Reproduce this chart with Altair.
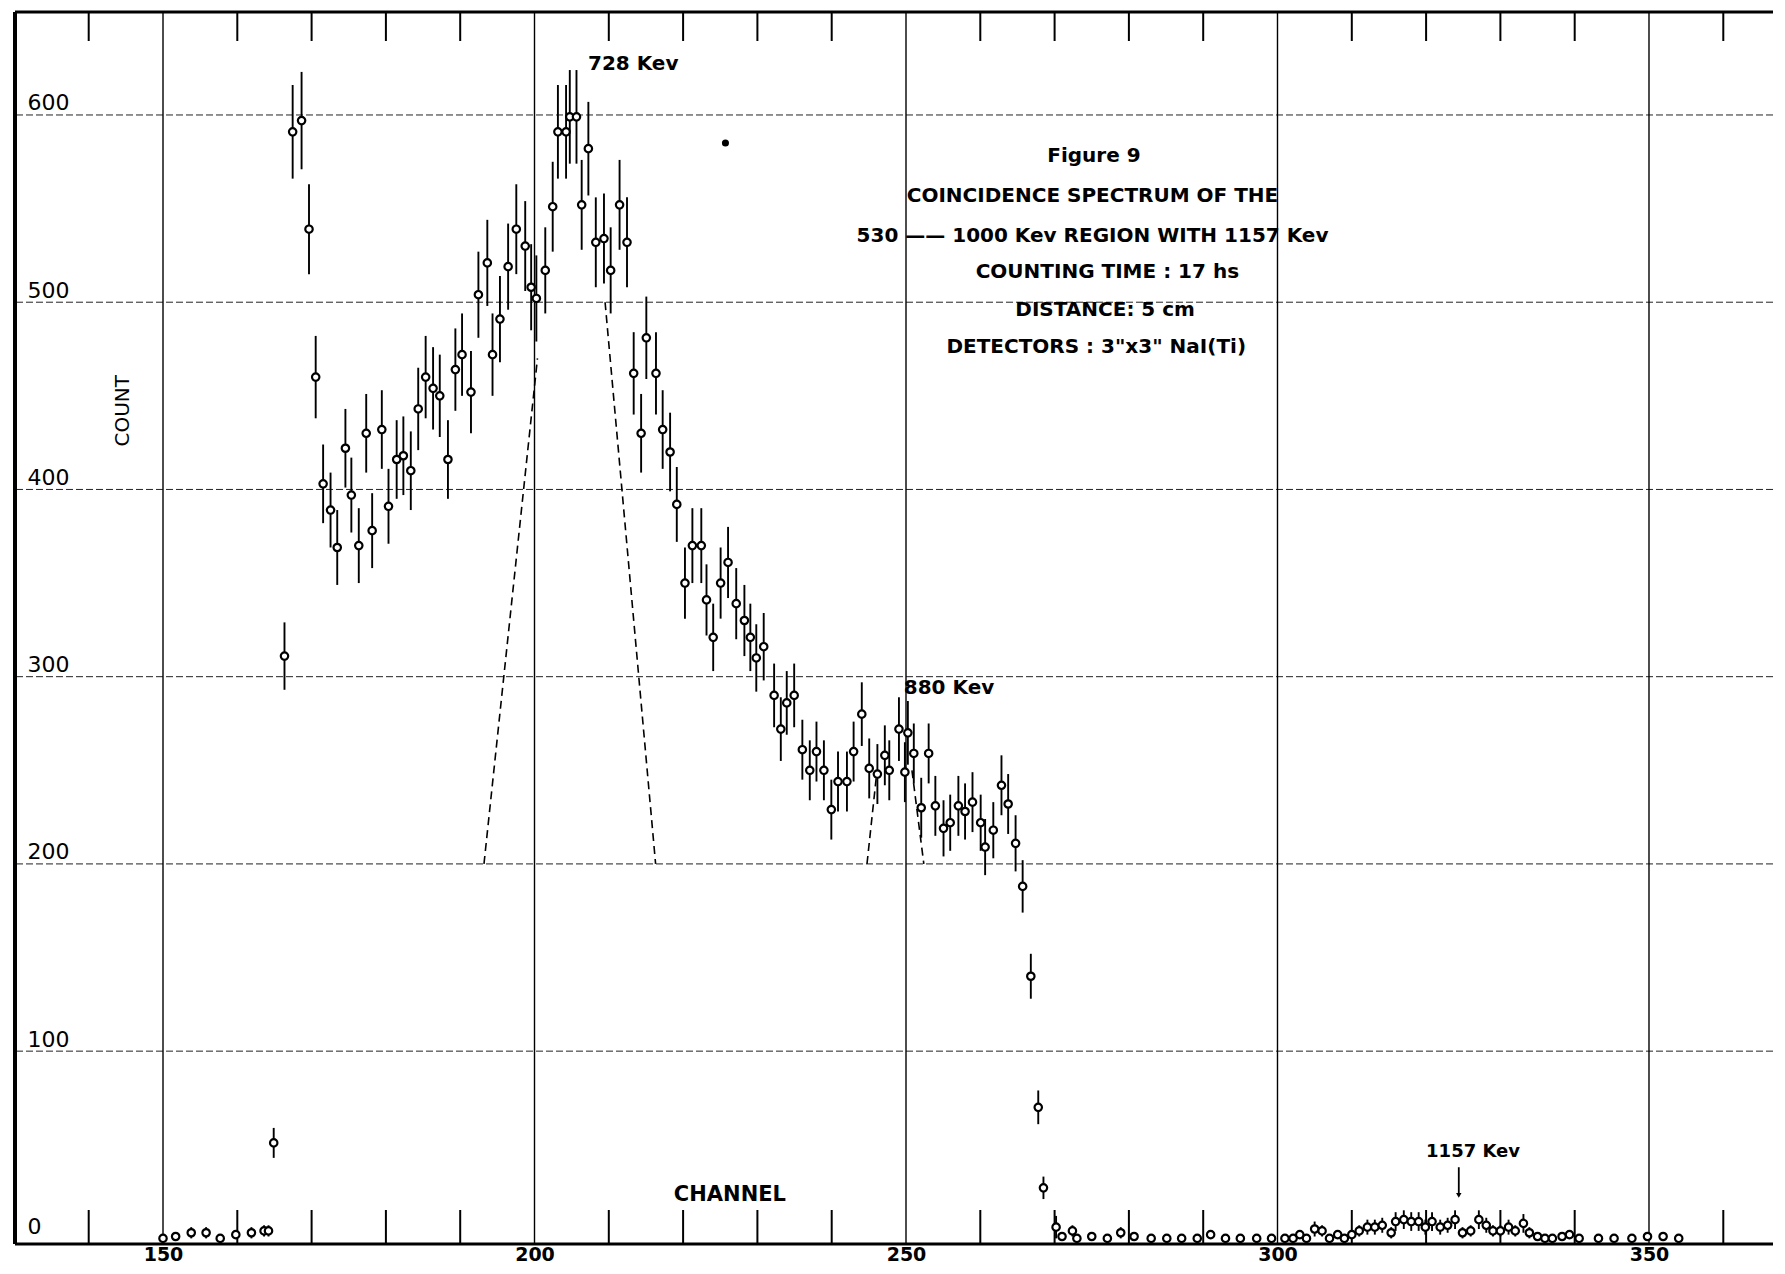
import altair as alt
import pandas as pd

# ---------------- data ----------------
# main spectrum (channel, count, error half-length)
channel = [164.9, 166.35, 167.45, 168.65, 169.65, 170.55, 171.55, 172.55, 173.45, 174.55,
           175.35, 176.35, 177.35, 178.15, 179.45, 180.35, 181.45, 182.35, 183.35, 184.35,
           185.35, 186.35, 187.25, 188.35, 189.35, 190.25, 191.45, 192.45, 193.65, 194.35,
           195.35, 196.45, 197.55, 198.75, 199.55, 200.25, 201.45, 202.45, 203.15, 204.25,
           204.75, 205.65, 206.35, 207.25, 208.25, 209.35, 210.25, 211.45, 212.45, 213.35,
           214.35, 215.05, 216.35, 217.25, 218.25, 219.15, 220.25, 221.25, 222.45, 223.15,
           224.05, 225.05, 226.05, 227.15, 228.25, 229.05, 229.85, 230.85, 232.25, 233.15,
           233.95, 234.95, 236.05, 237.05, 237.95, 238.95, 239.95, 240.85, 242.05, 242.95,
           244.05, 245.05, 246.15, 247.15, 247.75, 249.05, 249.85, 250.25, 251.05, 252.05,
           253.05, 253.95, 255.05, 255.95, 257.05, 257.95, 258.95, 260.05, 260.65, 261.75,
           262.85, 263.75, 264.75, 265.7, 266.8, 267.8, 268.5]
count = [51, 311, 591, 597, 539, 460, 403, 389, 369, 422,
         397, 370, 430, 378, 432, 391, 416, 418, 410, 443,
         460, 454, 450, 416, 464, 472, 452, 504, 521, 472,
         491, 519, 539, 530, 508, 502, 517, 551, 591, 591,
         599, 599, 552, 582, 532, 534, 517, 552, 532, 462,
         430, 481, 462, 432, 420, 392, 350, 370, 370, 341,
         321, 350, 361, 339, 330, 321, 310, 316, 290, 272,
         286, 290, 261, 250, 260, 250, 229, 244, 244, 260,
         280, 251, 248, 258, 250, 272, 249, 270, 259, 230,
         259, 231, 219, 222, 231, 228, 233, 222, 209, 218,
         242, 232, 211, 188, 140, 70, 27]
error = [8, 18, 25, 26, 24, 22, 21, 20, 20, 21,
         20, 20, 21, 20, 21, 20, 21, 21, 21, 22,
         22, 22, 22, 21, 22, 22, 22, 23, 23, 22,
         23, 23, 24, 24, 23, 23, 23, 24, 25, 25,
         25, 25, 24, 25, 24, 24, 23, 24, 24, 22,
         21, 22, 22, 21, 21, 20, 19, 20, 20, 19,
         18, 19, 19, 19, 19, 18, 18, 18, 17, 17,
         17, 17, 16, 16, 16, 16, 16, 16, 16, 16,
         17, 16, 16, 16, 16, 17, 16, 17, 16, 16,
         16, 16, 15, 15, 16, 15, 16, 15, 15, 15,
         16, 16, 15, 14, 12, 9, 6]

# low-count channels (left and right of the main spectrum)
low_channel = [150.0, 151.7, 153.8, 155.8, 157.7, 159.8, 161.9, 163.6, 164.2,
               270.2, 271.0, 272.4, 273.0, 275.0, 277.1, 278.9, 280.7, 283.0, 285.1,
               287.1, 289.2, 291.0, 293.0, 295.0, 297.2, 299.2, 301.0, 302.1, 303.0,
               303.9, 305.0, 306.0, 307.0, 308.1, 309.0, 310.0, 311.0, 312.1, 313.1,
               314.1, 315.3, 315.9, 317.0, 318.0, 319.0, 319.9, 320.8, 321.9, 322.9,
               323.9, 324.9, 326.0, 327.1, 328.1, 329.0, 330.0, 331.1, 332.0, 333.1,
               333.9, 335.0, 336.0, 337.0, 338.3, 339.3, 340.6, 343.2, 345.3, 347.7,
               349.8, 351.9, 354.0]
low_count = [0, 1, 3, 3, 0, 2, 3, 4, 4,
             6, 1, 4, 0, 1, 0, 3, 1, 0, 0,
             0, 0, 2, 0, 0, 0, 0, 0, 0, 2,
             0, 5, 4, 0, 2, 0, 2, 4, 6, 6,
             7, 3, 9, 10, 9, 9, 6, 9, 6, 7,
             10, 3, 4, 10, 7, 4, 4, 6, 4, 8,
             3, 1, 0, 0, 1, 2, 0, 0, 0, 0,
             1, 1, 0]
low_error = [2, 2, 3, 3, 2, 2, 3, 3, 3,
             6, 2, 3, 2, 2, 2, 3, 2, 2, 2,
             2, 2, 2, 2, 2, 2, 2, 2, 2, 2,
             2, 4, 3, 2, 2, 2, 2, 3, 4, 4,
             4, 3, 5, 5, 5, 5, 4, 5, 4, 4,
             5, 3, 3, 5, 4, 3, 3, 4, 3, 5,
             3, 2, 2, 2, 2, 2, 2, 2, 2, 2,
             2, 2, 2]

# dashed peak-shape lines (segment id, channel, count)
dash_seg = ["a", "a", "b", "b", "c", "c", "d", "d"]
dash_channel = [193.2, 200.4, 209.5, 216.3, 244.75, 246.1, 250.8, 252.4]
dash_count = [200, 470, 500, 200, 200, 250, 250, 200]

# stray ink dot on the sheet
speck_channel = [225.7]
speck_count = [585]

# axis tick labels and grid
x_labels = [150, 200, 250, 300, 350]
y_labels = [0, 100, 200, 300, 400, 500, 600]
y_grid = [100, 200, 300, 400, 500, 600]
minor_ticks = [140, 160, 170, 180, 190, 210, 220, 230, 240, 260, 270, 280, 290,
               310, 320, 330, 340, 360]

# text in the chart
box_lines = ["Figure 9", "COINCIDENCE SPECTRUM OF THE",
             "530 \u2014\u2014 1000 Kev REGION WITH 1157  Kev",
             "COUNTING TIME : 17 hs", "DISTANCE: 5 cm",
             "DETECTORS : 3\"x3\" NaI(Ti)"]
box_ch = [275.3, 275.1, 275.1, 277.1, 276.8, 275.6]
box_ct = [578, 556.5, 535.5, 516, 496, 476]

peak_labels = ["728 Kev", "880  Kev"]
peak_ch = [207.2, 249.7]
peak_ct = [627, 294]

arrow_label = "1157 Kev"
arrow_ch = 324.4
arrow_top = 38
arrow_tip = 23

# ---------------- chart ----------------
W, H = 1758, 1232
XDOM = [130.08, 366.69]
YDOM = [-3, 655]
FONT = "DejaVu Sans"

xscale = alt.Scale(domain=XDOM, nice=False, zero=False)
yscale = alt.Scale(domain=YDOM, nice=False, zero=False)

xaxis = alt.Axis(values=x_labels, grid=False, domain=False, ticks=False, tickSize=0,
                 labelFont=FONT, labelFontSize=19, labelFontWeight="bold",
                 labelColor="black", labelPadding=1, labelFlush=False)
yaxis = alt.Axis(values=y_labels, grid=False, domain=False, ticks=False, tickSize=0,
                 labelFont=FONT, labelFontSize=22, labelColor="black",
                 labelAlign="left", labelBaseline="bottom", labelPadding=0,
                 offset=-12, labelFlush=False)


def X(field):
    return alt.X(field, type="quantitative", scale=xscale, axis=xaxis, title=None)


def Y(field):
    return alt.Y(field, type="quantitative", scale=yscale, axis=yaxis, title=None)


pts = pd.DataFrame({
    "ch": channel + low_channel,
    "ct": count + low_count,
    "err": error + low_error,
})
pts["lo"] = pts["ct"] - pts["err"]
pts["hi"] = pts["ct"] + pts["err"]

one = pd.DataFrame({"a": [0]})

hgrid = alt.Chart(pd.DataFrame({"ct": y_grid})).mark_rule(
    color="#222", strokeWidth=1, strokeDash=[7, 3]
).encode(y=Y("ct"))

vgrid = alt.Chart(pd.DataFrame({"ch": x_labels})).mark_rule(
    color="black", strokeWidth=1.4
).encode(x=X("ch"))

ticks_top = alt.Chart(pd.DataFrame({"ch": minor_ticks})).mark_rule(
    color="black", strokeWidth=2
).encode(x=X("ch"), y=alt.value(0), y2=alt.value(29))

ticks_bot = alt.Chart(pd.DataFrame({"ch": minor_ticks})).mark_rule(
    color="black", strokeWidth=2
).encode(x=X("ch"), y=alt.value(H), y2=alt.value(H - 34))

dashes = alt.Chart(pd.DataFrame({"seg": dash_seg, "ch": dash_channel, "ct": dash_count})).mark_line(
    color="black", strokeWidth=1.6, strokeDash=[8, 5]
).encode(x=X("ch"), y=Y("ct"), detail="seg:N")

ebars = alt.Chart(pts).mark_rule(color="black", strokeWidth=1.9).encode(
    x=X("ch"), y=Y("lo"), y2=alt.Y2("hi")
)

points = alt.Chart(pts).mark_point(
    shape="circle", filled=True, fill="white", stroke="black",
    strokeWidth=2.2, size=55, opacity=1
).encode(x=X("ch"), y=Y("ct"))

speck = alt.Chart(pd.DataFrame({"ch": speck_channel, "ct": speck_count})).mark_circle(
    color="black", size=50, opacity=1
).encode(x=X("ch"), y=Y("ct"))

box = alt.Chart(pd.DataFrame({"t": box_lines, "ch": box_ch, "ct": box_ct})).mark_text(
    font=FONT, fontSize=20, fontWeight="bold", color="black", align="center", baseline="middle"
).encode(x=X("ch"), y=Y("ct"), text="t:N")

peaks = alt.Chart(pd.DataFrame({"t": peak_labels, "ch": peak_ch, "ct": peak_ct})).mark_text(
    font=FONT, fontSize=20, fontWeight="bold", color="black", align="left", baseline="middle"
).encode(x=X("ch"), y=Y("ct"), text="t:N")

arrow_df = pd.DataFrame({"ch": [arrow_ch], "top": [arrow_top], "tip": [arrow_tip],
                         "t": [arrow_label], "lab": [46], "lab_ch": [320.0]})
arrow_line = alt.Chart(arrow_df).mark_rule(color="black", strokeWidth=1.8).encode(
    x=X("ch"), y=Y("top"), y2=alt.Y2("tip")
)
arrow_head = alt.Chart(arrow_df).mark_point(
    shape="triangle-down", filled=True, color="black", size=30, opacity=1
).encode(x=X("ch"), y=Y("tip"))
arrow_text = alt.Chart(arrow_df).mark_text(
    font=FONT, fontSize=18, fontWeight="bold", color="black", align="left", baseline="middle"
).encode(x=X("lab_ch"), y=Y("lab"), text="t:N")

titles_df = pd.DataFrame({"t": ["CHANNEL"], "ch": [226.3], "ct": [23]})
xtitle = alt.Chart(titles_df).mark_text(
    font=FONT, fontSize=21, fontWeight="bold", color="black", align="center", baseline="middle"
).encode(x=X("ch"), y=Y("ct"), text="t:N")

ytitle_df = pd.DataFrame({"t": ["COUNT"], "ch": [144.6], "ct": [442]})
ytitle = alt.Chart(ytitle_df).mark_text(
    font=FONT, fontSize=20, color="black", align="center", baseline="middle", angle=270
).encode(x=X("ch"), y=Y("ct"), text="t:N")

frame_left = alt.Chart(one).mark_rule(color="black", strokeWidth=4).encode(
    x=alt.value(0), y=alt.value(0), y2=alt.value(H)
)
frame_top = alt.Chart(one).mark_rule(color="black", strokeWidth=3).encode(
    y=alt.value(0), x=alt.value(0), x2=alt.value(W)
)
frame_bot = alt.Chart(one).mark_rule(color="black", strokeWidth=3).encode(
    y=alt.value(H), x=alt.value(0), x2=alt.value(W)
)

chart = alt.layer(
    hgrid, vgrid, ticks_top, ticks_bot, dashes, ebars, points, speck,
    box, peaks, arrow_line, arrow_head, arrow_text, xtitle, ytitle,
    frame_left, frame_top, frame_bot
).properties(
    width=W, height=H,
    autosize=alt.AutoSizeParams(type="none"),
    padding={"left": 7, "top": 4, "right": 0, "bottom": 20},
    background="white"
).configure_view(stroke=None)

chart.save("out.html", embed_options={"renderer": "svg", "actions": False})
